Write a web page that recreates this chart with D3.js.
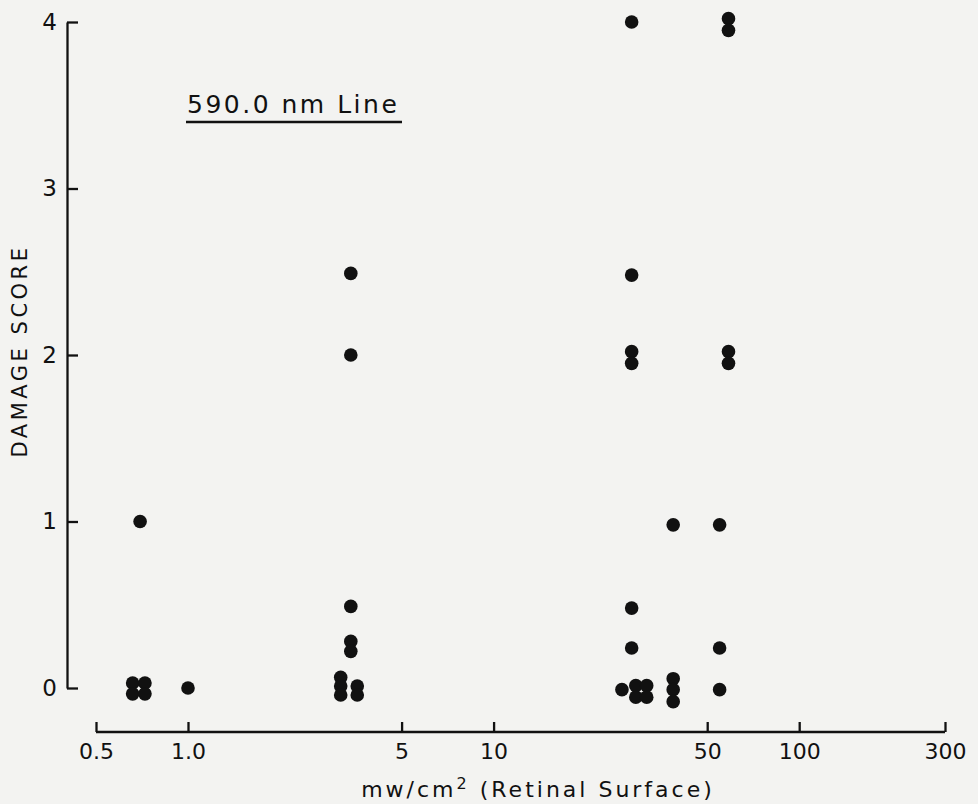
<!DOCTYPE html>
<html>
<head>
<meta charset="utf-8">
<script src="https://cdn.jsdelivr.net/npm/d3@7"></script>
<style>
  html, body { margin: 0; padding: 0; background: #f3f3f1; }
  svg { display: block; }
  text { font-family: "DejaVu Sans", sans-serif; fill: #111; }
</style>
</head>
<body>
<svg id="chart" width="978" height="804"></svg>
<script>
// ---- data ----
const chartTitle = "590.0 nm Line";
const xTickValues = [0.5, 1, 5, 10, 50, 100, 300];
const xTickLabels = ["0.5", "1.0", "5", "10", "50", "100", "300"];
const yTickValues = [0, 1, 2, 3, 4];
// irradiance (mw/cm^2, retinal surface) for each exposure
const irradiance = [
  0.697, 0.659, 0.723, 0.659, 0.723, 1.0,
  3.41, 3.41, 3.41, 3.41, 3.41, 3.16, 3.16, 3.16, 3.58, 3.58,
  28.3, 28.3, 28.3, 28.3, 28.3, 28.3, 26.3, 29.2, 31.7, 29.2, 31.7,
  38.7, 38.7, 38.7, 38.7,
  54.9, 54.9, 54.9,
  58.7, 58.7, 58.7, 58.7
];
// damage score (as plotted, overlapping points slightly offset)
const damageScore = [
  1.0, 0.03, 0.03, -0.035, -0.035, 0.0,
  2.49, 2.0, 0.49, 0.28, 0.22, 0.064, 0.012, -0.042, 0.012, -0.042,
  4.0, 2.48, 2.02, 1.95, 0.48, 0.24, -0.01, 0.014, 0.014, -0.055, -0.055,
  0.98, 0.056, -0.01, -0.082,
  0.98, 0.24, -0.01,
  4.02, 3.95, 2.02, 1.95
];

// ---- layout ----
const svg = d3.select("#chart");
const x = d3.scaleLog().domain([0.5, 300]).range([96, 945]);
const y = d3.scaleLinear().domain([0, 4]).range([688, 22]);
const xAxisY = 732;
const yAxisX = 67;

// y axis (ticks pointing inward)
const yAxis = d3.axisLeft(y)
  .tickValues(yTickValues)
  .tickFormat(d3.format("d"))
  .tickSizeInner(-11)
  .tickSizeOuter(0)
  .tickPadding(10);
const gy = svg.append("g").attr("transform", `translate(${yAxisX},0)`).call(yAxis);
gy.selectAll("path, line").attr("stroke", "#111").attr("stroke-width", 2.3);
gy.selectAll("text").style("font-size", "23px").attr("fill", "#111");

// x axis (ticks pointing up)
const xAxis = d3.axisBottom(x)
  .tickValues(xTickValues)
  .tickFormat((d, i) => xTickLabels[i])
  .tickSizeInner(-10)
  .tickSizeOuter(0)
  .tickPadding(11);
const gx = svg.append("g").attr("transform", `translate(0,${xAxisY})`).call(xAxis);
gx.selectAll("path, line").attr("stroke", "#111").attr("stroke-width", 2.3);
gx.selectAll("text").style("font-size", "22px").attr("fill", "#111");
gx.select(".domain").attr("d", `M${x(0.5)},0H${x(300)}`);

// axis labels
svg.append("text")
  .attr("transform", "translate(27,351) rotate(-90)")
  .attr("text-anchor", "middle")
  .style("font-size", "21px")
  .style("letter-spacing", "3.5px")
  .text("DAMAGE SCORE");

const xl = svg.append("text")
  .attr("x", 538).attr("y", 797)
  .attr("text-anchor", "middle")
  .style("font-size", "22px")
  .style("letter-spacing", "3px");
xl.append("tspan").text("mw/cm");
xl.append("tspan").attr("dy", -8).style("font-size", "16px").text("2");
xl.append("tspan").attr("dy", 8).text(" (Retinal Surface)");

// title with underline
svg.append("text")
  .attr("x", 187).attr("y", 113)
  .style("font-size", "25px")
  .style("letter-spacing", "2.5px")
  .text(chartTitle);
svg.append("line")
  .attr("x1", 186).attr("x2", 402)
  .attr("y1", 122).attr("y2", 122)
  .attr("stroke", "#111").attr("stroke-width", 2.3);

// points
svg.append("g").selectAll("circle")
  .data(irradiance.map((v, i) => [v, damageScore[i]]))
  .join("circle")
  .attr("cx", d => x(d[0]))
  .attr("cy", d => y(d[1]))
  .attr("r", 6.8)
  .attr("fill", "#111");
</script>
</body>
</html>
